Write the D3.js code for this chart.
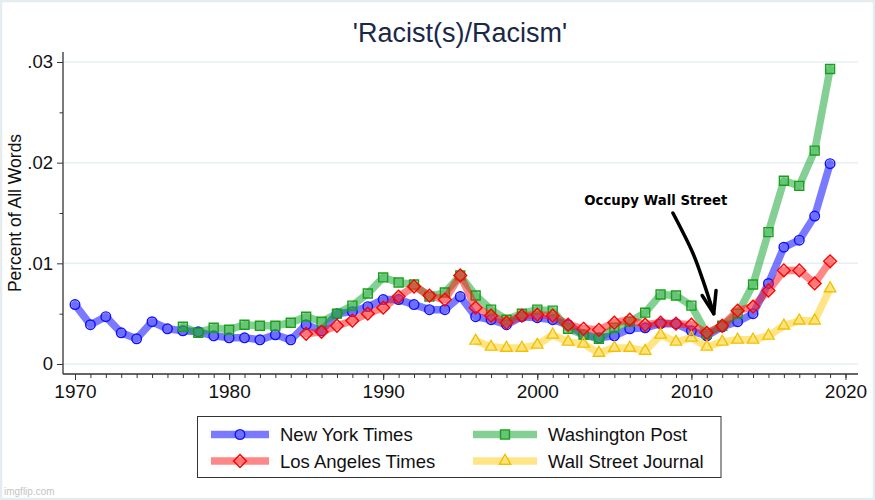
<!DOCTYPE html>
<html>
<head>
<meta charset="utf-8">
<script src="https://cdn.jsdelivr.net/npm/d3@7"></script>
<style>
  html, body { margin: 0; padding: 0; background: #fff; }
  svg { display: block; }
</style>
</head>
<body>
<svg id="chart" width="875" height="500"></svg>
<script>
// ---------- DATA ----------
const nytYears = [1970,1971,1972,1973,1974,1975,1976,1977,1978,1979,1980,1981,1982,1983,1984,1985,1986,1987,1988,1989,1990,1991,1992,1993,1994,1995,1996,1997,1998,1999,2000,2001,2002,2003,2004,2005,2006,2007,2008,2009,2010,2011,2012,2013,2014,2015,2016,2017,2018,2019];
const nytValues = [.0059,.0039,.0047,.0031,.0025,.0042,.0035,.0033,.0032,.0028,.0026,.0026,.0024,.0029,.0024,.0039,.0033,.0050,.0052,.0057,.0064,.0064,.0059,.0054,.0054,.0067,.0047,.0044,.0039,.0047,.0046,.0044,.0039,.0029,.0026,.0028,.0035,.0036,.0040,.0040,.0033,.0028,.0037,.0042,.0050,.0080,.0116,.0123,.0147,.0199];

const wapoYears = [1977,1978,1979,1980,1981,1982,1983,1984,1985,1986,1987,1988,1989,1990,1991,1992,1993,1994,1995,1996,1997,1998,1999,2000,2001,2002,2003,2004,2005,2006,2007,2008,2009,2010,2011,2012,2013,2014,2015,2016,2017,2018,2019];
const wapoValues = [.0037,.0031,.0036,.0034,.0039,.0038,.0038,.0041,.0047,.0042,.0050,.0058,.0070,.0086,.0081,.0079,.0067,.0071,.0088,.0068,.0054,.0044,.0050,.0054,.0053,.0035,.0029,.0025,.0036,.0042,.0051,.0069,.0068,.0058,.0030,.0038,.0050,.0079,.0131,.0182,.0177,.0212,.0293];

const latYears = [1985,1986,1987,1988,1989,1990,1991,1992,1993,1994,1995,1996,1997,1998,1999,2000,2001,2002,2003,2004,2005,2006,2007,2008,2009,2010,2011,2012,2013,2014,2015,2016,2017,2018,2019];
const latValues = [.0030,.0032,.0038,.0043,.0050,.0056,.0067,.0077,.0068,.0064,.0088,.0056,.0048,.0041,.0048,.0049,.0048,.0039,.0035,.0034,.0041,.0044,.0039,.0041,.0040,.0039,.0031,.0038,.0053,.0057,.0073,.0093,.0093,.0080,.0102];

const wsjYears = [1996,1997,1998,1999,2000,2001,2002,2003,2004,2005,2006,2007,2008,2009,2010,2011,2012,2013,2014,2015,2016,2017,2018,2019];
const wsjValues = [.0023,.0017,.0016,.0016,.0019,.0029,.0022,.0020,.0011,.0016,.0016,.0013,.0029,.0022,.0026,.0017,.0022,.0024,.0024,.0028,.0038,.0043,.0043,.0075];

const seriesNames = ["New York Times", "Los Angeles Times", "Washington Post", "Wall Street Journal"];
const yTickValues = [0, .01, .02, .03];
const yTickLabels = ["0", ".01", ".02", ".03"];
const yMinorTicks = [.005, .015, .025];
const xTickValues = [1970, 1980, 1990, 2000, 2010, 2020];
const xMinorTicks = [1970,1971,1972,1973,1974,1975,1976,1977,1978,1979,1980,1981,1982,1983,1984,1985,1986,1987,1988,1989,1990,1991,1992,1993,1994,1995,1996,1997,1998,1999,2000,2001,2002,2003,2004,2005,2006,2007,2008,2009,2010,2011,2012,2013,2014,2015,2016,2017,2018,2019,2020];
const titleText = "'Racist(s)/Racism'";
const yAxisTitle = "Percent of All Words";
const annotationText = "Occupy Wall Street";

// ---------- STYLES ----------
const styles = {
  "New York Times":      {line: "#0000ff", lineOp: 0.52, stroke: "#1010ff", fill: "rgba(70,70,255,0.22)", shape: "circle"},
  "Washington Post":     {line: "#0aa028", lineOp: 0.5,  stroke: "#18a018", fill: "rgba(60,180,80,0.4)", shape: "square"},
  "Los Angeles Times":   {line: "#ff1010", lineOp: 0.5,  stroke: "#ff0000", fill: "rgba(255,80,80,0.28)", shape: "diamond"},
  "Wall Street Journal": {line: "#ffc800", lineOp: 0.48, stroke: "#f2c000", fill: "rgba(255,225,100,0.2)", shape: "triangle"}
};

const series = [
  {name: "New York Times", years: nytYears, values: nytValues},
  {name: "Washington Post", years: wapoYears, values: wapoValues},
  {name: "Los Angeles Times", years: latYears, values: latValues},
  {name: "Wall Street Journal", years: wsjYears, values: wsjValues}
];

const svg = d3.select("#chart");
const FONT = "'Liberation Sans', Arial, Helvetica, sans-serif";

// outer frame
svg.append("rect").attr("x", 1).attr("y", 1).attr("width", 873).attr("height", 498)
  .attr("fill", "#fff").attr("stroke", "#e4ecf0").attr("stroke-width", 2.5);

const x = d3.scaleLinear().domain([1970, 2020]).range([75, 845.5]);
const y = d3.scaleLinear().domain([0, 0.03]).range([364, 62]);

const plotLeft = 63, plotRight = 858, plotTop = 52, plotBottom = 374;

// gridlines
svg.append("g").selectAll("line").data(yTickValues).join("line")
  .attr("x1", plotLeft + 1).attr("x2", plotRight)
  .attr("y1", d => y(d)).attr("y2", d => y(d))
  .attr("stroke", "#e6f0f2").attr("stroke-width", 1.5);

// y axis
const yAxis = d3.axisLeft(y).tickValues(yTickValues)
  .tickFormat((d, i) => yTickLabels[i]).tickSize(6).tickPadding(4);
const gy = svg.append("g").attr("transform", `translate(${plotLeft},0)`).call(yAxis);
gy.select(".domain").remove();
gy.selectAll("text").attr("font-family", FONT).attr("font-size", 18.5).attr("fill", "#111");
gy.selectAll("line").attr("stroke", "#333");
const yMinor = d3.axisLeft(y).tickValues(yMinorTicks).tickFormat("").tickSize(3.5);
const gym = svg.append("g").attr("transform", `translate(${plotLeft},0)`).call(yMinor);
gym.select(".domain").remove();
gym.selectAll("line").attr("stroke", "#333");
svg.append("line").attr("x1", plotLeft).attr("x2", plotLeft).attr("y1", plotTop).attr("y2", plotBottom)
  .attr("stroke", "#333").attr("stroke-width", 1.3);

// x axis
const xAxis = d3.axisBottom(x).tickValues(xTickValues).tickFormat(d3.format("d")).tickSize(6).tickPadding(5);
const gx = svg.append("g").attr("transform", `translate(0,${plotBottom})`).call(xAxis);
gx.select(".domain").remove();
gx.selectAll("text").attr("font-family", FONT).attr("font-size", 19).attr("fill", "#111");
gx.selectAll("line").attr("stroke", "#333");
const xMinor = d3.axisBottom(x).tickValues(xMinorTicks).tickFormat("").tickSize(4);
const gxm = svg.append("g").attr("transform", `translate(0,${plotBottom})`).call(xMinor);
gxm.select(".domain").remove();
gxm.selectAll("line").attr("stroke", "#333");
svg.append("line").attr("x1", plotLeft).attr("x2", plotRight).attr("y1", plotBottom).attr("y2", plotBottom)
  .attr("stroke", "#333").attr("stroke-width", 1.3);

// y axis title
svg.append("text").attr("transform", `translate(21,213) rotate(-90)`)
  .attr("text-anchor", "middle").attr("font-family", FONT).attr("font-size", 17.5).attr("fill", "#111")
  .text(yAxisTitle);

// title
svg.append("text").attr("x", 460).attr("y", 42).attr("text-anchor", "middle")
  .attr("font-family", FONT).attr("font-size", 27).attr("fill", "#1a2848").text(titleText);

// marker symbol
function markerPath(shape) {
  if (shape === "circle") return d3.symbol(d3.symbolCircle, 72)();
  if (shape === "square") return d3.symbol(d3.symbolSquare, 80)();
  if (shape === "diamond") return "M0,-6.4L6.4,0L0,6.4L-6.4,0Z";
  return d3.symbol(d3.symbolTriangle, 56)();
}

const line = d3.line().x(d => x(d[0])).y(d => y(d[1]));

series.forEach(s => {
  const st = styles[s.name];
  const pts = s.years.map((yr, i) => [yr, s.values[i]]);
  const g = svg.append("g");
  g.append("path").datum(pts).attr("d", line).attr("fill", "none")
    .attr("stroke", st.line).attr("stroke-opacity", st.lineOp).attr("stroke-width", 7.5)
    .attr("stroke-linejoin", "round").attr("stroke-linecap", "round");
  g.selectAll("path.m").data(pts).join("path").attr("class", "m")
    .attr("transform", d => `translate(${x(d[0])},${y(d[1])})`)
    .attr("d", markerPath(st.shape))
    .attr("fill", st.fill).attr("stroke", st.stroke).attr("stroke-width", 1.4);
});

// annotation
svg.append("text").attr("x", x(2003.05)).attr("y", y(0.0158))
  .attr("font-family", "'DejaVu Sans', sans-serif").attr("font-weight", "bold").attr("font-size", 14.5)
  .attr("textLength", 143).attr("lengthAdjust", "spacingAndGlyphs")
  .attr("fill", "#000").text(annotationText);

const arrowPts = [[2008.8, .0150], [2010.1, .0110], [2010.75, .0083], [2011.45, .0050]];
const curve = d3.line().x(d => x(d[0])).y(d => y(d[1])).curve(d3.curveCatmullRom);
svg.append("path").attr("d", curve(arrowPts)).attr("fill", "none")
  .attr("stroke", "#000").attr("stroke-width", 3.5).attr("stroke-linecap", "round");
const head = [[2010.7, .0068], [2011.45, .0050], [2011.6, .0073]];
svg.append("path").attr("d", d3.line().x(d => x(d[0])).y(d => y(d[1]))(head)).attr("fill", "none")
  .attr("stroke", "#000").attr("stroke-width", 3.5).attr("stroke-linecap", "round").attr("stroke-linejoin", "round");

// legend
const lg = svg.append("g");
lg.append("rect").attr("x", 197.5).attr("y", 416.5).attr("width", 523.5).attr("height", 61)
  .attr("fill", "#fff").attr("stroke", "#333").attr("stroke-width", 1);
const legendPos = {
  "New York Times": [211, 434.5, 58],
  "Los Angeles Times": [211, 461, 58],
  "Washington Post": [473, 434.5, 64],
  "Wall Street Journal": [473, 461, 64]
};
seriesNames.forEach(name => {
  const st = styles[name];
  const [lx, ly, len] = legendPos[name];
  lg.append("line").attr("x1", lx).attr("x2", lx + len).attr("y1", ly).attr("y2", ly)
    .attr("stroke", st.line).attr("stroke-opacity", st.lineOp).attr("stroke-width", 7.5);
  lg.append("path").attr("transform", `translate(${lx + len / 2},${ly})`).attr("d", markerPath(st.shape))
    .attr("fill", st.fill).attr("stroke", st.stroke).attr("stroke-width", 1.4);
  lg.append("text").attr("x", lx + len + 11).attr("y", ly).attr("dy", "0.36em")
    .attr("font-family", FONT).attr("font-size", 18.5).attr("fill", "#111").text(name);
});

// watermark
svg.append("text").attr("x", 4).attr("y", 495).attr("font-family", FONT).attr("font-size", 10)
  .attr("fill", "#c4c4c4").text("imgflip.com");
</script>
</body>
</html>
